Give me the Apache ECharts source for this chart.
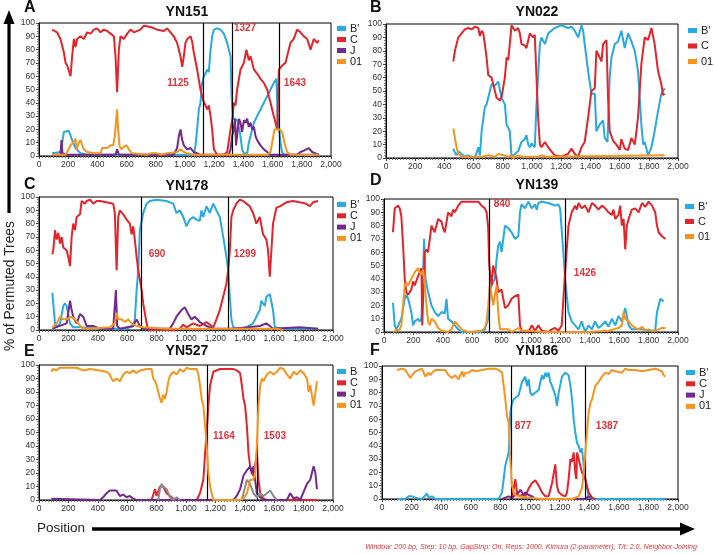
<!DOCTYPE html>
<html><head><meta charset="utf-8">
<script src="https://cdn.jsdelivr.net/npm/echarts@6/dist/echarts.min.js"></script>
<style>html,body{margin:0;padding:0;background:#fff}#c{width:714px;height:554px}</style>
</head><body><div id="c"></div>
<script>
// ---------- DATA: [position, % of permuted trees] ----------
const xTicks = [0,200,400,600,800,1000,1200,1400,1600,1800,2000];
const yTicks = [0,10,20,30,40,50,60,70,80,90,100];

// Panel A: YN151
const A_B = [[90,2],[147,3],[159,10],[170,18],[182,19],[204,19],[227,12],[250,6],[284,2],[330,1],[650,1],[1060,1],[1072,8],[1083,20],[1095,35],[1106,40],[1117,55],[1129,60],[1140,62],[1152,65],[1163,63],[1175,80],[1186,90],[1198,95],[1220,96],[1243,95],[1266,92],[1289,85],[1300,80],[1312,75],[1319,45],[1327,30],[1334,28],[1346,28],[1357,27],[1368,22],[1380,15],[1391,5],[1403,2],[1426,2],[1437,10],[1449,15],[1472,25],[1494,30],[1517,35],[1540,40],[1563,45],[1586,50],[1608,55],[1620,55],[1626,58],[1635,30],[1643,22],[1654,10],[1665,3],[1677,1],[1916,1]];
const A_C = [[90,95],[124,93],[147,88],[170,78],[182,70],[193,68],[216,60],[227,75],[239,88],[250,82],[261,88],[284,90],[307,88],[330,93],[353,92],[376,95],[398,96],[421,93],[444,95],[467,94],[490,92],[513,90],[524,75],[535,48],[547,80],[558,90],[581,88],[604,92],[627,95],[650,93],[695,95],[718,98],[764,97],[809,95],[855,94],[878,96],[901,93],[923,90],[946,85],[969,75],[981,67],[992,75],[1003,85],[1015,88],[1038,90],[1049,86],[1060,78],[1083,65],[1106,50],[1124,42],[1140,38],[1152,35],[1163,38],[1175,30],[1186,20],[1198,5],[1220,1],[1266,1],[1289,3],[1312,20],[1327,30],[1334,40],[1346,38],[1357,50],[1380,65],[1403,70],[1421,80],[1437,72],[1449,75],[1472,65],[1494,62],[1517,58],[1540,55],[1563,50],[1574,45],[1586,40],[1597,35],[1608,30],[1620,25],[1631,20],[1643,65],[1665,68],[1688,70],[1722,85],[1745,88],[1768,95],[1791,93],[1814,90],[1837,88],[1860,80],[1882,88],[1905,85],[1916,87]];
const A_J = [[90,1],[147,1],[154,12],[161,2],[193,1],[524,1],[535,5],[547,1],[923,1],[946,6],[958,15],[969,20],[981,12],[992,8],[1015,5],[1038,6],[1060,3],[1106,1],[1300,1],[1312,5],[1323,15],[1334,20],[1342,28],[1350,8],[1361,20],[1370,28],[1380,25],[1391,18],[1403,27],[1414,25],[1426,28],[1437,22],[1449,25],[1460,20],[1472,22],[1483,15],[1494,12],[1517,8],[1540,5],[1563,3],[1586,1],[1768,1],[1791,3],[1814,4],[1848,6],[1871,3],[1894,2],[1916,1]];
const A_01 = [[90,1],[182,1],[193,3],[216,8],[239,11],[250,13],[257,5],[273,10],[284,12],[296,8],[307,5],[330,3],[376,2],[421,2],[433,6],[444,7],[467,6],[490,8],[508,8],[519,15],[535,35],[542,20],[551,8],[563,5],[581,7],[599,8],[615,5],[638,2],[650,1],[741,1],[764,2],[809,2],[832,1],[878,2],[946,3],[969,5],[992,3],[1015,2],[1060,1],[1312,1],[1563,1],[1586,3],[1597,10],[1613,20],[1631,20],[1649,20],[1665,18],[1681,10],[1699,3],[1722,1],[1916,1]];
const A_breakLines = [1125,1327,1643];
const A_breakLabels = ['1125','1327','1643'];

// Panel B: YN022
const B_B = [[461,7],[472,4],[483,2],[495,5],[518,3],[540,1],[563,2],[586,1],[609,0],[632,8],[643,2],[655,20],[677,38],[689,40],[700,45],[723,55],[746,54],[769,57],[791,45],[814,40],[826,25],[848,20],[860,1],[883,3],[905,5],[928,12],[951,14],[962,17],[974,10],[985,8],[997,11],[1019,8],[1031,40],[1054,85],[1065,90],[1088,85],[1111,93],[1133,95],[1156,97],[1179,98],[1202,99],[1247,97],[1270,98],[1293,95],[1316,90],[1339,99],[1350,95],[1361,85],[1384,65],[1407,48],[1430,48],[1441,20],[1464,25],[1487,28],[1498,15],[1517,12],[1532,60],[1544,75],[1567,85],[1590,87],[1612,95],[1635,82],[1658,93],[1681,87],[1704,80],[1726,65],[1749,25],[1761,10],[1772,12],[1795,2],[1818,8],[1840,20],[1863,35],[1886,48],[1909,52]];
const B_C = [[461,72],[472,80],[495,90],[518,93],[540,96],[563,97],[586,96],[609,98],[620,99],[632,97],[643,91],[655,95],[666,93],[677,85],[689,75],[700,62],[723,60],[746,50],[757,45],[780,43],[791,45],[814,60],[826,75],[837,73],[848,85],[860,99],[883,95],[905,97],[917,93],[928,85],[951,84],[962,82],[985,93],[1008,90],[1019,92],[1031,60],[1042,30],[1054,10],[1065,8],[1088,12],[1111,8],[1133,5],[1156,2],[1202,1],[1247,3],[1270,7],[1293,3],[1316,1],[1339,8],[1361,12],[1384,30],[1407,50],[1430,52],[1441,80],[1464,75],[1476,72],[1487,85],[1510,88],[1521,45],[1532,20],[1555,13],[1578,10],[1601,6],[1612,14],[1635,7],[1658,6],[1681,15],[1704,10],[1726,30],[1749,70],[1772,90],[1795,88],[1818,97],[1840,85],[1863,65],[1886,55],[1897,47],[1909,48]];
const B_01 = [[461,22],[472,15],[483,8],[495,3],[518,1],[655,1],[700,2],[746,1],[769,3],[803,2],[837,1],[860,2],[871,0],[905,2],[928,1],[1042,1],[1065,2],[1099,1],[1909,2]];

// Panel C: YN178
const C_B = [[91,28],[97,20],[109,5],[120,2],[143,5],[165,18],[177,20],[188,18],[199,12],[211,5],[233,2],[279,2],[414,1],[528,1],[596,1],[641,3],[652,8],[664,30],[675,45],[686,75],[709,88],[732,95],[754,97],[800,98],[867,97],[913,95],[935,88],[958,90],[981,85],[1003,78],[1026,83],[1049,85],[1071,83],[1094,82],[1105,90],[1117,85],[1139,93],[1162,88],[1185,95],[1207,90],[1230,85],[1253,70],[1275,55],[1287,45],[1298,25],[1309,8],[1321,2],[1366,1],[1411,2],[1456,5],[1479,10],[1502,15],[1513,22],[1524,20],[1536,18],[1547,25],[1570,27],[1581,28],[1592,15],[1604,2],[1660,1],[1898,1]];
const C_C = [[91,57],[97,60],[109,75],[120,68],[131,73],[143,65],[154,70],[165,62],[188,60],[199,55],[211,48],[222,70],[233,80],[245,75],[256,85],[279,87],[290,97],[313,95],[324,97],[347,98],[369,95],[392,97],[414,97],[460,96],[505,95],[516,88],[528,45],[539,85],[550,90],[573,87],[596,83],[618,80],[630,72],[641,78],[652,68],[664,55],[675,45],[686,38],[698,30],[709,20],[732,5],[743,0],[777,0],[913,0],[958,1],[981,4],[1003,2],[1049,5],[1094,3],[1139,6],[1185,2],[1207,8],[1230,15],[1253,25],[1275,35],[1287,45],[1298,60],[1309,85],[1321,90],[1343,95],[1366,98],[1388,97],[1411,95],[1434,93],[1456,88],[1479,80],[1502,85],[1524,72],[1547,68],[1558,60],[1570,40],[1581,60],[1592,80],[1615,92],[1638,93],[1683,96],[1728,97],[1773,96],[1819,95],[1841,93],[1864,96],[1898,97]];
const C_J = [[91,1],[188,5],[211,22],[222,15],[233,10],[256,5],[279,12],[301,10],[324,3],[369,3],[414,1],[505,1],[523,30],[532,3],[550,1],[641,3],[664,8],[686,3],[709,1],[890,1],[913,5],[935,10],[969,15],[992,17],[1015,12],[1037,8],[1060,10],[1094,6],[1139,3],[1185,1],[1321,1],[1502,3],[1547,5],[1570,3],[1592,1],[1773,2],[1898,1]];
const C_01 = [[91,2],[120,5],[143,10],[165,8],[188,8],[222,10],[245,8],[267,5],[290,2],[324,1],[482,2],[516,5],[528,13],[539,8],[562,8],[584,6],[607,8],[630,5],[664,3],[709,2],[867,1],[1321,1],[1547,1],[1615,1],[1660,0]];
const C_breakLines = [693,1290];
const C_breakLabels = ['690','1299'];

// Panel D: YN139
const D_B = [[61,22],[73,5],[84,2],[95,3],[118,10],[141,25],[152,28],[164,25],[186,15],[198,5],[209,8],[232,10],[243,8],[255,10],[266,45],[273,70],[282,40],[300,30],[323,20],[345,15],[368,12],[391,15],[414,14],[425,25],[436,10],[459,8],[482,5],[505,2],[527,0],[573,0],[664,0],[686,2],[709,10],[720,30],[732,35],[755,40],[766,55],[777,65],[789,68],[800,60],[823,80],[845,78],[868,75],[891,70],[914,72],[925,90],[936,96],[959,93],[982,98],[1005,93],[1027,96],[1039,92],[1050,97],[1073,98],[1118,97],[1164,95],[1186,96],[1198,93],[1220,60],[1232,40],[1255,15],[1277,8],[1300,5],[1323,2],[1345,8],[1368,0],[1391,5],[1414,2],[1436,8],[1459,3],[1482,5],[1505,8],[1527,4],[1550,10],[1573,5],[1595,12],[1618,8],[1641,18],[1652,12],[1664,5],[1686,2],[1755,2],[1800,1],[1845,1],[1857,15],[1880,25],[1902,23]];
const D_C = [[61,75],[73,93],[95,95],[107,93],[118,87],[130,65],[141,40],[152,30],[164,28],[186,32],[198,38],[209,35],[232,42],[243,45],[255,48],[260,5],[268,5],[277,60],[289,62],[300,60],[323,80],[345,75],[357,76],[368,85],[391,83],[402,78],[414,75],[436,90],[459,87],[470,92],[482,90],[505,95],[527,98],[573,98],[641,98],[664,95],[686,93],[698,90],[709,78],[716,50],[732,35],[743,50],[755,45],[766,40],[777,30],[800,32],[823,18],[845,20],[868,25],[891,27],[914,28],[925,5],[936,1],[982,0],[1005,5],[1027,1],[1050,5],[1073,1],[1118,0],[1141,2],[1164,3],[1186,1],[1209,5],[1232,45],[1255,80],[1277,90],[1300,95],[1311,92],[1323,97],[1345,93],[1368,95],[1391,90],[1414,97],[1436,95],[1459,92],[1482,95],[1505,93],[1527,90],[1550,88],[1561,92],[1573,85],[1595,88],[1607,95],[1618,80],[1630,85],[1641,62],[1652,80],[1664,85],[1686,92],[1709,93],[1732,90],[1755,97],[1777,94],[1800,98],[1823,95],[1845,90],[1857,80],[1868,75],[1891,72],[1914,70]];
const D_01 = [[61,0],[84,1],[107,2],[118,5],[130,20],[141,35],[152,37],[164,35],[186,40],[209,45],[232,48],[243,45],[255,43],[266,47],[277,35],[289,20],[300,8],[311,5],[323,10],[345,8],[368,3],[391,1],[436,0],[459,2],[482,8],[505,5],[527,2],[573,0],[664,1],[686,3],[698,8],[709,20],[720,35],[732,28],[743,20],[755,28],[766,35],[777,15],[789,2],[800,1],[845,2],[868,0],[914,3],[936,1],[982,1],[1073,0],[1391,0],[1527,1],[1595,3],[1618,5],[1630,15],[1641,10],[1664,8],[1686,5],[1709,3],[1732,2],[1755,4],[1777,1],[1800,2],[1823,1],[1845,1],[1891,3],[1914,3]];
const D_breakLines = [714,1230];
const D_breakLabels = ['840','1426'];

// Panel E: YN527
const E_B = [];
const E_C = [[766,0],[777,0],[789,8],[800,3],[823,10],[845,10],[868,5],[891,3],[914,1],[936,0],[1073,0],[1095,5],[1118,15],[1130,35],[1141,50],[1152,70],[1164,85],[1186,95],[1232,97],[1323,97],[1345,96],[1368,94],[1380,85],[1391,75],[1402,70],[1414,55],[1425,35],[1436,25],[1448,20],[1459,18],[1470,25],[1482,35],[1493,15],[1505,5],[1527,1],[1550,0],[1891,0]];
const E_J = [[84,1],[95,0],[414,0],[436,2],[459,5],[482,7],[505,7],[527,7],[550,3],[573,4],[595,2],[618,3],[641,1],[664,0],[777,0],[1323,0],[1345,3],[1368,8],[1391,18],[1414,22],[1436,25],[1448,20],[1459,25],[1470,15],[1482,5],[1505,2],[1527,0],[1686,0],[1709,5],[1732,1],[1755,2],[1777,0],[1823,12],[1845,15],[1868,25],[1880,20],[1891,8]];
const E_other = [[811,0],[823,8],[834,12],[845,10],[857,11],[868,8],[891,2],[914,0],[936,2],[959,0],[1000,null],[1380,0],[1391,5],[1414,15],[1436,12],[1459,5],[1482,2],[1505,5],[1527,3],[1550,5],[1573,7],[1584,5],[1595,3],[1618,0]];
const E_01 = [[84,95],[95,97],[118,96],[141,98],[186,98],[255,98],[300,96],[345,97],[414,96],[459,95],[482,93],[493,90],[505,88],[527,90],[550,88],[573,93],[595,95],[618,94],[641,96],[664,94],[686,96],[732,97],[766,97],[777,90],[789,88],[800,85],[811,80],[823,75],[834,72],[845,78],[857,75],[868,80],[880,88],[891,92],[914,95],[936,93],[959,97],[982,95],[1005,98],[1027,97],[1073,97],[1084,93],[1095,85],[1107,75],[1118,70],[1130,55],[1141,40],[1152,20],[1164,10],[1186,0],[1232,0],[1368,0],[1391,1],[1414,5],[1436,15],[1459,15],[1470,20],[1482,40],[1493,70],[1505,85],[1516,90],[1527,88],[1550,93],[1573,95],[1595,93],[1618,95],[1641,98],[1664,97],[1686,93],[1709,90],[1732,95],[1755,93],[1777,96],[1800,94],[1823,90],[1834,80],[1845,85],[1868,70],[1891,88]];
const E_breakLines = [1145,1485];
const E_breakLabels = ['1164','1503'];

// Panel F: YN186
const F_B = [[101,0],[158,0],[180,2],[203,2],[225,1],[270,0],[304,4],[315,1],[338,2],[360,0],[495,0],[788,0],[811,5],[822,15],[833,25],[845,30],[856,35],[867,65],[878,72],[890,75],[901,74],[923,78],[946,88],[968,92],[980,85],[991,90],[1002,80],[1014,78],[1036,80],[1059,82],[1070,88],[1081,93],[1092,90],[1104,95],[1115,92],[1126,95],[1137,88],[1149,85],[1171,78],[1182,70],[1194,80],[1216,92],[1239,95],[1261,93],[1273,85],[1284,75],[1295,60],[1306,50],[1318,42],[1329,40],[1340,35],[1351,38],[1363,25],[1374,15],[1396,2],[1419,0],[1914,0]];
const F_C = [[878,0],[901,15],[912,5],[923,2],[946,3],[968,2],[991,8],[1014,12],[1036,14],[1059,10],[1081,5],[1104,2],[1115,3],[1126,2],[1149,12],[1171,26],[1182,10],[1194,5],[1216,3],[1239,2],[1250,5],[1261,15],[1273,30],[1284,28],[1295,35],[1306,20],[1313,15],[1318,35],[1329,30],[1340,25],[1351,20],[1374,15],[1385,10],[1396,5],[1408,3],[1419,1],[1441,0]];
const F_J = [[811,0],[833,1],[856,2],[878,1],[901,3],[923,5],[935,7],[946,5],[957,3],[968,5],[991,3],[1014,2],[1036,0],[1374,0],[1396,2],[1419,1]];
const F_01 = [[101,97],[113,96],[135,98],[158,97],[180,93],[191,91],[203,93],[225,96],[248,97],[270,98],[293,92],[315,95],[327,93],[338,95],[360,97],[405,97],[428,97],[450,93],[473,91],[495,93],[518,90],[541,96],[552,92],[563,95],[586,95],[608,97],[631,96],[676,97],[721,98],[766,98],[788,97],[811,95],[822,85],[833,75],[845,62],[856,58],[867,30],[878,10],[890,5],[901,3],[923,2],[991,1],[1081,0],[1284,0],[1329,2],[1351,8],[1363,20],[1374,35],[1385,50],[1396,65],[1408,72],[1419,75],[1441,85],[1464,88],[1486,92],[1509,95],[1532,94],[1554,97],[1577,96],[1622,95],[1644,98],[1667,97],[1712,97],[1757,96],[1802,97],[1847,98],[1869,97],[1892,96],[1903,93],[1914,92]];
const F_breakLines = [871,1372];
const F_breakLabels = ['877','1387'];

const panelTitles = ['YN151','YN022','YN178','YN139','YN527','YN186'];
const panelLetters = ['A','B','C','D','E','F'];
const footnote = 'Window: 200 bp, Step: 10 bp, GapStrip: On, Reps: 1000, Kimura (2-parameter), T/t: 2.0, Neighbor-Joining';

// ---------- STYLE / LAYOUT ----------
const FONT = '"Liberation Sans", Arial, Helvetica, sans-serif';
const COL = {"B'":'#27a9e1', 'B':'#27a9e1', 'C':'#e3242b', 'J':'#74298c', '01':'#f7941d', 'other':'#8c8c8c'};
const RED_TXT = '#e2343b';

const panels = [
  {grid:{left:39, top:23, width:292, height:133}, title:[187,12.5], letter:[24,8],
   legend:{left:337, top:23, gap:0},
   series:[["B'",A_B],['C',A_C],['J',A_J],['01',A_01]], lines:A_breakLines, labels:A_breakLabels,
   labelAt:[[952,55],[1411,96],[1753,55]]},
  {grid:{left:386, top:24, width:292, height:134}, title:[537,12.5], letter:[370,8],
   legend:{left:688, top:25, gap:4.5},
   series:[["B'",B_B],['C',B_C],['01',B_01]], lines:[], labels:[], labelAt:[]},
  {grid:{left:39, top:197, width:294, height:133}, title:[187,186], letter:[24,185],
   legend:{left:337, top:199, gap:0.3},
   series:[["B'",C_B],['C',C_C],['J',C_J],['01',C_01]], lines:C_breakLines, labels:C_breakLabels,
   labelAt:[[803,57],[1401,57]]},
  {grid:{left:384, top:199, width:294, height:133}, title:[537,185], letter:[370,181],
   legend:{left:685, top:201, gap:4},
   series:[["B'",D_B],['C',D_C],['01',D_01]], lines:D_breakLines, labels:D_breakLabels,
   labelAt:[[803,96],[1367,44]]},
  {grid:{left:39, top:365, width:294, height:135}, title:[187,351], letter:[24,352],
   legend:{left:337, top:366, gap:0.3},
   series:[['B',E_B],['C',E_C],['J',E_J],['other',E_other],['01',E_01]], lines:E_breakLines, labels:E_breakLabels,
   labelAt:[[1258,47],[1605,47]]},
  {grid:{left:382, top:366, width:296, height:133}, title:[537,351], letter:[370,351],
   legend:{left:686, top:367, gap:0.3},
   series:[["B'",F_B],['C',F_C],['J',F_J],['01',F_01]], lines:F_breakLines, labels:F_breakLabels,
   labelAt:[[953,55],[1520,55]]}
];

function fmtX(v){ return v >= 1000 ? Math.floor(v/1000) + ',' + String(v%1000).padStart(3,'0') : String(v); }

const grids=[], xAxes=[], yAxes=[], series=[], legends=[], graphics=[];
panels.forEach((p, gi) => {
  grids.push(Object.assign({show:true, borderColor:'#000', borderWidth:1, backgroundColor:'#fff', containLabel:false, outerBoundsMode:'none'}, p.grid));
  xAxes.push({type:'value', gridIndex:gi, min:xTicks[0], max:xTicks[xTicks.length-1], interval:200,
    axisLine:{show:true, lineStyle:{color:'#000', width:1}},
    axisTick:{show:true, length:3, lineStyle:{color:'#444'}},
    minorTick:{show:true, splitNumber:10, length:2, lineStyle:{color:'#777'}},
    splitLine:{show:false}, minorSplitLine:{show:false},
    axisLabel:{show:true, interval:0, margin:4, fontSize:8.5, color:'#333', fontFamily:FONT, formatter:fmtX, hideOverlap:false}});
  yAxes.push({type:'value', gridIndex:gi, min:yTicks[0], max:yTicks[yTicks.length-1], interval:10,
    axisLine:{show:true, lineStyle:{color:'#000', width:1}},
    axisTick:{show:true, length:3, lineStyle:{color:'#444'}},
    minorTick:{show:true, splitNumber:5, length:2, lineStyle:{color:'#777'}},
    splitLine:{show:false}, minorSplitLine:{show:false},
    axisLabel:{show:true, margin:4, fontSize:8.5, color:'#333', fontFamily:FONT, hideOverlap:false}});
  const names = [];
  p.series.forEach(([name, data], si) => {
    if (name !== 'other') names.push(name);
    const s = {type:'line', name:name, xAxisIndex:gi, yAxisIndex:gi, data:data,
      symbol:'none', showSymbol:false, connectNulls:false, animation:false, silent:true,
      lineStyle:{width:2, color:COL[name]}, itemStyle:{color:COL[name]}, z:2+si};
    if (si === p.series.length-1) {
      if (p.lines.length) s.markLine = {symbol:'none', silent:true, animation:false, label:{show:false},
        lineStyle:{color:'#000', type:'solid', width:1.2}, emphasis:{disabled:true},
        data:p.lines.map(v => ({xAxis:v}))};
      if (p.labels.length) s.markPoint = {symbol:'rect', symbolSize:1, silent:true, animation:false,
        itemStyle:{color:'rgba(0,0,0,0)'},
        label:{show:true, position:'inside', formatter:'{b}', color:RED_TXT, fontWeight:'bold', fontSize:10, fontFamily:FONT},
        data:p.labels.map((t,i) => ({name:t, coord:p.labelAt[i]}))};
    }
    series.push(s);
  });
  legends.push({orient:'vertical', left:p.legend.left, top:p.legend.top, itemGap:p.legend.gap, padding:0,
    itemWidth:9, itemHeight:5, icon:'rect', selectedMode:false, data:names,
    textStyle:{fontSize:11, lineHeight:11, color:'#222', fontFamily:FONT, padding:[0,0,0,-1]}});
  graphics.push({type:'text', x:p.title[0], y:p.title[1], style:{text:panelTitles[gi], font:'bold 14px '+FONT, fill:'#111', align:'center', verticalAlign:'middle', textAlign:'center', textVerticalAlign:'middle'}});
  graphics.push({type:'text', x:p.letter[0], y:p.letter[1], style:{text:panelLetters[gi], font:'bold 16px '+FONT, fill:'#111', align:'left', verticalAlign:'middle', textAlign:'left', textVerticalAlign:'middle'}});
});

// axis arrows and captions
graphics.push({type:'line', shape:{x1:9, y1:213, x2:9, y2:22}, style:{stroke:'#000', lineWidth:3.2}});
graphics.push({type:'polygon', shape:{points:[[9,10],[3.5,24],[14.5,24]]}, style:{fill:'#000'}});
graphics.push({type:'text', x:10, y:286, rotation:Math.PI/2, style:{text:'% of Permuted Trees', font:'13.8px '+FONT, fill:'#222', align:'center', verticalAlign:'middle', textAlign:'center', textVerticalAlign:'middle'}});
graphics.push({type:'text', x:37, y:528, style:{text:'Position', font:'13.5px '+FONT, fill:'#222', align:'left', verticalAlign:'middle', textAlign:'left', textVerticalAlign:'middle'}});
graphics.push({type:'line', shape:{x1:92, y1:529, x2:683, y2:529}, style:{stroke:'#000', lineWidth:3.5}});
graphics.push({type:'polygon', shape:{points:[[695,529],[680,522.5],[680,535.5]]}, style:{fill:'#000'}});
graphics.push({type:'text', x:697, y:547, style:{text:footnote, font:'italic 7.1px '+FONT, fill:RED_TXT, align:'right', verticalAlign:'middle', textAlign:'right', textVerticalAlign:'middle'}});

const chart = echarts.init(document.getElementById('c'), null, {renderer:'canvas', width:714, height:554});
chart.setOption({
  backgroundColor:'#fff', animation:false,
  grid:grids, xAxis:xAxes, yAxis:yAxes, series:series, legend:legends,
  tooltip:{show:false}, graphic:{elements:graphics}
});
</script></body></html>
